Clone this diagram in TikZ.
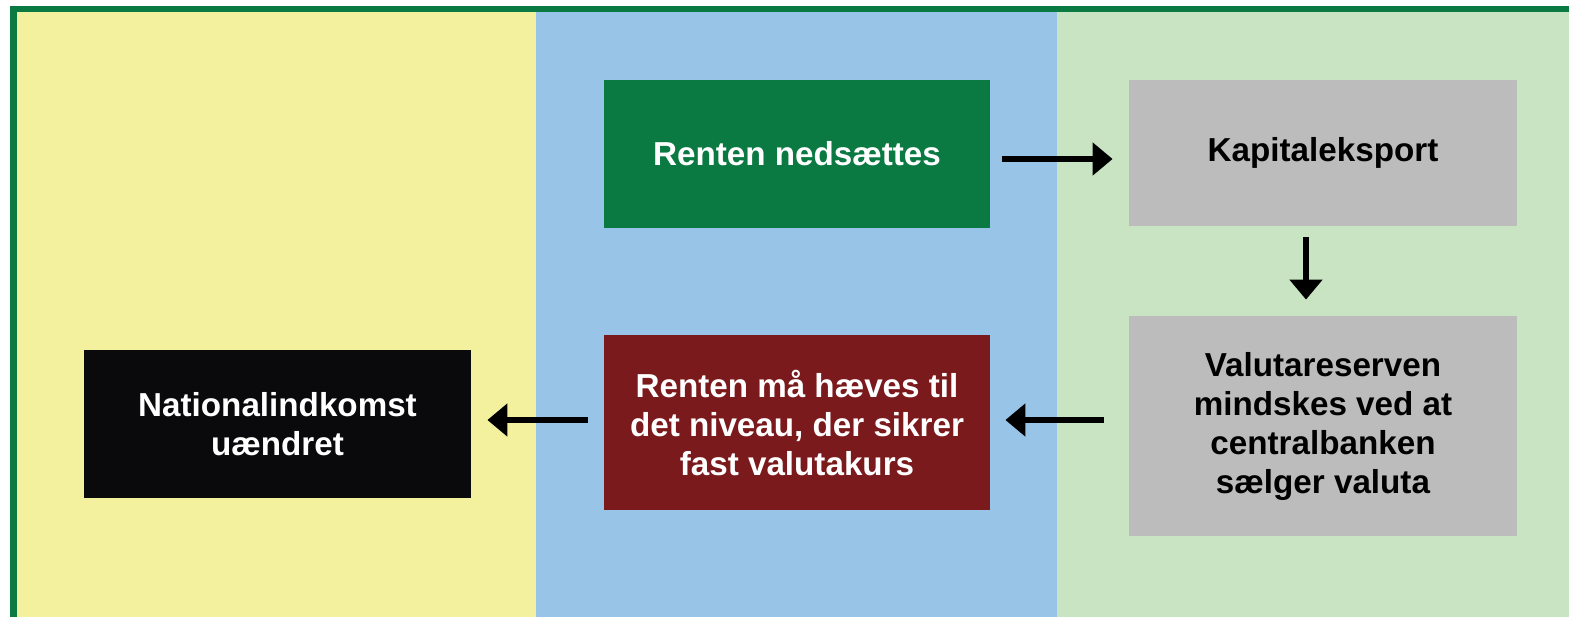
\documentclass[tikz,border=0pt]{standalone}
\usepackage{fontspec}
\setmainfont{Liberation Sans}
\usetikzlibrary{arrows.meta}
\definecolor{bordergreen}{HTML}{0B7A42}
\definecolor{panelyellow}{HTML}{F3F09E}
\definecolor{panelblue}{HTML}{98C4E8}
\definecolor{panelgreen}{HTML}{C9E4C3}
\definecolor{boxgreen}{HTML}{0A7A42}
\definecolor{boxgray}{HTML}{BCBCBC}
\definecolor{boxred}{HTML}{7B1A1C}
\definecolor{boxblack}{HTML}{0A0A0C}
\tikzset{
  box/.style={rectangle, inner sep=0pt, align=center, font=\fontsize{16.6}{19.5}\selectfont\bfseries},
  arr/.style={line width=3pt, -{Triangle[length=10pt,width=16pt]}, black}
}
\begin{document}
\begin{tikzpicture}[x=0.5pt,y=-0.5pt]
\useasboundingbox (0,0) rectangle (1569,617);
\fill[white] (0,0) rectangle (1569,617);
\fill[panelyellow] (17,12) rectangle (536,617);
\fill[panelblue] (536,12) rectangle (1057,617);
\fill[panelgreen] (1057,12) rectangle (1569,617);
\draw[bordergreen, line width=3.3pt] (13.5,617) -- (13.5,9) -- (1569,9);

\node[box, fill=boxgreen, text=white, minimum width=193pt, minimum height=74pt] (ren) at (797,154) {Renten nedsættes};
\node[box, fill=boxgray, text=black, minimum width=194pt, minimum height=73pt] (kap) at (1323,153) {Kapitaleksport};
\node[box, fill=boxgray, text=black, minimum width=194pt, minimum height=110pt] (val) at (1323,426) {Valutareserven\\mindskes ved at\\centralbanken\\sælger valuta};
\node[box, fill=boxred, text=white, minimum width=193pt, minimum height=87.5pt] (renm) at (797,422.5) {Renten må hæves til\\det niveau, der sikrer\\fast valutakurs};
\node[box, fill=boxblack, text=white, minimum width=193.5pt, minimum height=74pt] (nat) at (277.5,424) {Nationalindkomst\\uændret};

\draw[arr, shorten <=6pt, shorten >=8pt] (ren.east |- 0,159) -- (kap.west |- 0,159);
\draw[arr, shorten <=5.5pt, shorten >=8pt] (kap.south -| 1306,0) -- (val.north -| 1306,0);
\draw[arr, shorten <=12.5pt, shorten >=7.5pt] (val.west |- 0,420) -- (renm.east |- 0,420);
\draw[arr, shorten <=8pt, shorten >=8pt] (renm.west |- 0,420) -- (nat.east |- 0,420);
\end{tikzpicture}
\end{document}
